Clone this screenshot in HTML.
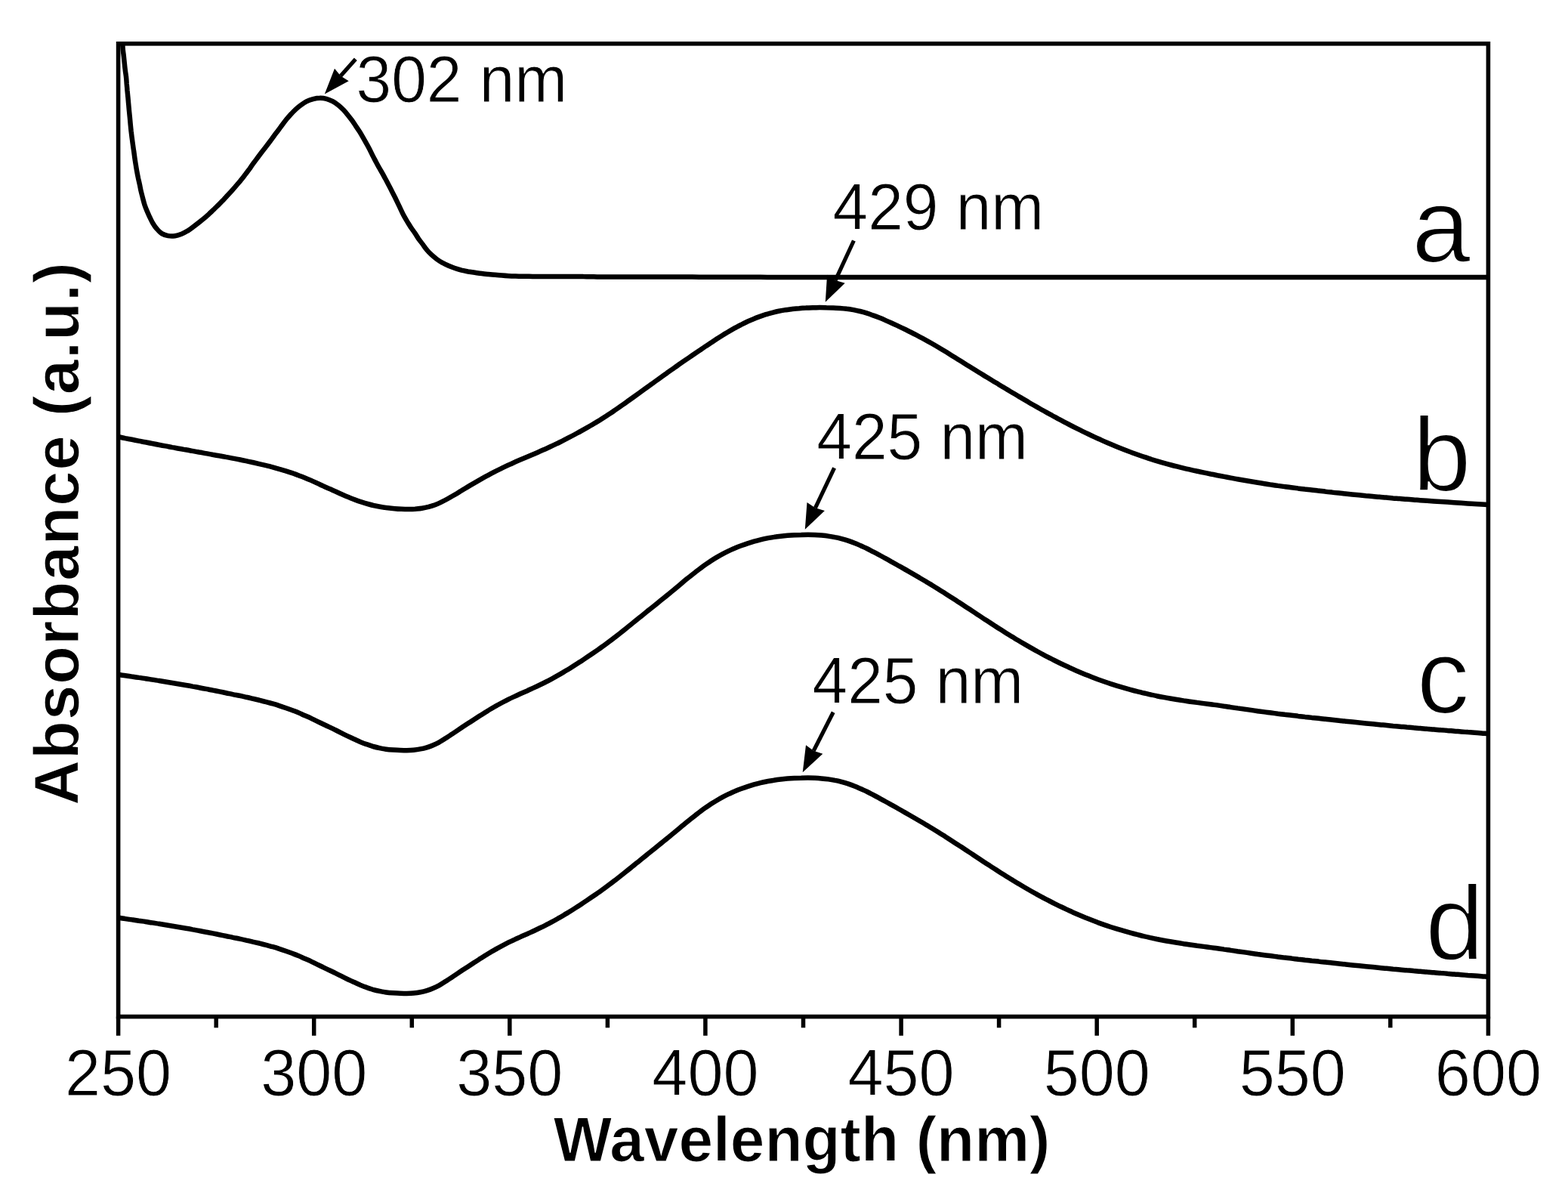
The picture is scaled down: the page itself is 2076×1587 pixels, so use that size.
<!DOCTYPE html>
<html lang="en">
<head>
<meta charset="utf-8">
<title>UV-vis absorbance spectra</title>
<style>
html,body{margin:0;padding:0;background:#fff;}
body{width:2076px;height:1587px;overflow:hidden;}
svg{display:block;}
text{font-family:"Liberation Sans",Arial,Helvetica,sans-serif;fill:#000;}
.tk{font-size:87.3px;text-anchor:middle;stroke:#fff;stroke-width:0.9px;}
.an{font-size:86.8px;stroke:#fff;stroke-width:0.9px;}
.lb{font-size:140px;stroke:#fff;stroke-width:2.2px;}
.ax{font-size:83px;font-weight:bold;text-anchor:middle;stroke:#fff;stroke-width:1.2px;}
</style>
</head>
<body>
<svg xmlns="http://www.w3.org/2000/svg" width="2076" height="1587" viewBox="0 0 2076 1587">
<rect width="2076" height="1587" fill="#fff"/>
<defs><clipPath id="plot"><rect x="156.6" y="57.8" width="1813.8" height="1287.8"/></clipPath></defs>
<g clip-path="url(#plot)" fill="none" stroke="#000" stroke-width="6.5" stroke-linejoin="round" stroke-linecap="butt">
<path d="M158.5 -60.0C158.5 -57.0 158.6 -54.0 158.6 -51.0C158.7 -48.0 158.8 -45.0 158.8 -42.0C158.9 -39.0 158.9 -36.0 159.0 -33.0C159.1 -30.0 159.2 -27.0 159.2 -24.0C159.3 -21.0 159.4 -18.0 159.5 -15.0C159.6 -12.0 159.6 -9.0 159.7 -6.0C159.8 -3.0 159.9 0.0 160.0 3.0C160.1 6.0 160.3 9.0 160.4 12.0C160.4 15.0 160.5 18.0 160.6 21.0C160.6 24.1 160.7 27.1 160.7 30.1C160.8 33.1 161.0 36.1 161.1 39.1C161.3 42.1 161.4 45.1 161.6 48.1C161.8 51.1 162.0 54.0 162.2 57.0C162.4 60.0 162.5 63.0 162.8 66.0C163.1 69.0 163.6 72.0 163.9 75.0C164.2 77.9 164.5 80.9 164.8 83.9C165.1 86.9 165.4 89.9 165.8 92.9C166.1 95.9 166.7 98.8 167.0 101.8C167.4 104.8 167.5 107.8 167.7 110.8C168.0 113.8 168.3 116.8 168.5 119.7C168.8 122.7 169.1 125.7 169.4 128.7C169.7 131.7 169.9 134.7 170.2 137.7C170.5 140.7 170.7 143.7 171.0 146.7C171.3 149.6 171.6 152.6 171.9 155.6C172.2 158.6 172.4 161.6 172.7 164.6C173.0 167.6 173.3 170.6 173.6 173.6C174.0 176.5 174.3 179.5 174.7 182.5C175.1 185.5 175.5 188.5 175.9 191.4C176.3 194.4 176.7 197.4 177.2 200.3C177.6 203.3 178.0 206.3 178.4 209.3C178.8 212.2 179.3 215.2 179.8 218.2C180.3 221.1 180.7 224.1 181.3 227.1C181.8 230.0 182.4 232.9 183.0 235.9C183.7 238.8 184.3 241.7 185.0 244.7C185.6 247.6 186.1 250.6 186.8 253.5C187.5 256.5 188.3 259.3 189.0 262.2C189.8 265.2 190.5 268.1 191.4 270.9C192.4 273.8 193.5 276.6 194.6 279.3C195.8 282.1 197.0 284.9 198.3 287.6C199.7 290.3 200.9 293.1 202.5 295.7C204.0 298.2 205.7 300.8 207.7 303.0C209.6 305.2 211.7 307.6 214.2 309.1C216.7 310.6 219.7 311.6 222.6 312.1C225.5 312.6 228.7 312.6 231.6 312.2C234.5 311.8 237.5 310.8 240.3 309.7C243.1 308.7 245.8 307.2 248.4 305.6C251.0 304.1 253.3 302.2 255.7 300.4C258.1 298.6 260.5 296.7 262.8 294.9C265.2 293.0 267.6 291.2 269.9 289.3C272.2 287.4 274.4 285.3 276.6 283.3C278.8 281.3 281.0 279.2 283.2 277.2C285.3 275.1 287.5 273.0 289.6 270.9C291.8 268.8 293.8 266.6 295.9 264.4C298.0 262.2 300.0 260.0 302.0 257.8C304.1 255.6 306.1 253.4 308.1 251.1C310.1 248.9 312.1 246.6 314.0 244.3C315.9 242.1 317.9 239.7 319.7 237.4C321.6 235.1 323.4 232.7 325.3 230.3C327.1 227.9 328.9 225.5 330.7 223.1C332.4 220.6 334.1 218.1 335.8 215.7C337.6 213.3 339.4 210.9 341.2 208.5C343.0 206.1 344.8 203.7 346.6 201.3C348.4 198.9 350.3 196.5 352.1 194.2C354.0 191.8 355.8 189.4 357.6 187.0C359.4 184.6 361.1 182.1 362.9 179.7C364.7 177.3 366.6 174.9 368.4 172.5C370.2 170.1 371.9 167.7 373.7 165.3C375.5 162.9 377.3 160.5 379.2 158.1C381.1 155.8 383.1 153.5 385.1 151.3C387.2 149.1 389.2 146.8 391.4 144.8C393.6 142.8 396.0 140.9 398.4 139.2C400.9 137.4 403.4 135.6 406.1 134.2C408.7 132.9 411.6 131.9 414.5 131.1C417.4 130.4 420.4 129.8 423.4 129.8C426.3 129.7 429.4 130.1 432.2 130.8C435.1 131.5 437.9 132.8 440.5 134.2C443.2 135.6 445.7 137.4 448.0 139.2C450.3 141.1 452.5 143.2 454.6 145.3C456.7 147.5 458.6 149.8 460.5 152.2C462.4 154.5 464.2 156.9 466.0 159.3C467.8 161.8 469.4 164.3 471.1 166.8C472.8 169.3 474.5 171.8 476.1 174.3C477.7 176.9 479.2 179.5 480.7 182.1C482.2 184.7 483.7 187.3 485.1 189.9C486.6 192.5 488.0 195.1 489.4 197.8C490.8 200.5 492.0 203.2 493.4 205.9C494.7 208.6 496.2 211.2 497.6 213.9C499.0 216.5 500.4 219.2 501.9 221.8C503.3 224.4 504.9 227.0 506.4 229.6C507.8 232.2 509.2 234.9 510.7 237.5C512.1 240.2 513.5 242.8 514.9 245.5C516.3 248.1 517.7 250.8 519.0 253.5C520.4 256.2 521.7 258.8 523.1 261.5C524.4 264.2 525.7 266.9 527.0 269.6C528.3 272.3 529.6 275.1 530.9 277.8C532.2 280.5 533.4 283.2 534.9 285.9C536.3 288.5 537.9 291.1 539.4 293.6C541.0 296.2 542.5 298.8 544.2 301.3C545.8 303.8 547.7 306.1 549.4 308.6C551.1 311.1 552.5 313.8 554.3 316.3C556.0 318.7 557.9 321.0 559.7 323.4C561.5 325.8 563.1 328.4 565.1 330.7C567.0 333.0 569.1 335.1 571.3 337.2C573.5 339.2 575.8 341.2 578.2 343.0C580.6 344.8 583.2 346.4 585.8 347.8C588.4 349.3 591.2 350.6 593.9 351.8C596.7 353.0 599.5 354.1 602.3 355.0C605.1 356.0 608.0 356.8 610.9 357.6C613.9 358.3 616.8 358.9 619.7 359.5C622.7 360.0 625.7 360.4 628.7 360.8C631.6 361.2 634.6 361.7 637.6 362.0C640.6 362.4 643.6 362.7 646.5 363.0C649.5 363.3 652.5 363.6 655.5 363.8C658.5 364.1 661.5 364.4 664.5 364.6C667.5 364.9 670.5 365.1 673.5 365.2C676.5 365.4 679.5 365.5 682.5 365.6C685.5 365.7 688.5 365.7 691.5 365.8C694.5 365.8 697.5 365.8 700.5 365.8C703.5 365.9 706.5 365.9 709.5 366.0C712.5 366.0 715.5 366.1 718.5 366.1C721.5 366.1 724.5 366.1 727.5 366.1C730.5 366.1 733.5 366.1 736.5 366.1C739.5 366.1 742.5 366.1 745.5 366.1C748.5 366.1 751.5 366.1 754.5 366.1C757.5 366.0 760.5 366.0 763.5 366.0C766.5 366.0 769.5 366.0 772.5 366.1C775.5 366.1 778.5 366.3 781.5 366.3C784.5 366.4 787.6 366.3 790.6 366.4C793.6 366.4 796.6 366.4 799.6 366.4C802.6 366.4 805.6 366.4 808.6 366.4C811.6 366.5 814.6 366.5 817.6 366.5C820.6 366.5 823.6 366.5 826.6 366.5C829.6 366.5 832.6 366.5 835.6 366.5C838.6 366.5 841.6 366.6 844.6 366.6C847.6 366.6 850.6 366.6 853.6 366.6C856.6 366.6 859.6 366.6 862.6 366.6C865.6 366.6 868.6 366.5 871.6 366.5C874.6 366.5 877.6 366.5 880.6 366.6C883.6 366.6 886.6 366.6 889.6 366.6C892.6 366.6 895.6 366.6 898.6 366.6C901.6 366.6 904.6 366.6 907.6 366.6C910.6 366.6 913.7 366.6 916.7 366.6C919.7 366.7 922.7 366.7 925.7 366.7C928.7 366.7 931.7 366.7 934.7 366.7C937.7 366.7 940.7 366.7 943.7 366.7C946.7 366.7 949.7 366.7 952.7 366.7C955.7 366.7 958.7 366.7 961.7 366.8C964.7 366.8 967.7 366.8 970.7 366.8C973.7 366.8 976.7 366.8 979.7 366.8C982.7 366.8 985.7 366.8 988.7 366.8C991.7 366.8 994.7 366.8 997.7 366.8C1000.7 366.8 1003.7 366.8 1006.7 366.8C1009.7 366.8 1012.7 366.8 1015.7 366.9C1018.7 366.9 1021.7 366.9 1024.7 366.9C1027.7 366.9 1030.7 366.9 1033.7 366.9C1036.8 366.9 1039.8 366.9 1042.8 366.9C1045.8 366.9 1048.8 366.9 1051.8 366.9C1054.8 366.9 1057.8 366.9 1060.8 366.9C1063.8 366.9 1066.8 366.9 1069.8 366.9C1072.8 366.9 1075.8 366.9 1078.8 366.9C1081.8 366.9 1084.8 367.0 1087.8 367.0C1090.8 367.0 1093.8 367.0 1096.8 367.0C1099.8 367.0 1102.8 367.0 1105.8 367.0C1108.8 367.0 1111.8 367.0 1114.8 367.0C1117.8 367.0 1120.8 367.0 1123.8 367.0C1126.8 367.0 1129.8 367.0 1132.8 367.0C1135.8 367.0 1138.8 367.0 1141.8 367.0C1144.8 367.0 1147.8 367.0 1150.8 367.0C1153.8 367.0 1156.8 367.0 1159.8 367.0C1162.9 367.0 1165.9 367.0 1168.9 367.0C1171.9 367.0 1174.9 367.0 1177.9 367.0C1180.9 367.0 1183.9 367.0 1186.9 367.0C1189.9 367.0 1192.9 367.0 1195.9 367.0C1198.9 367.0 1201.9 367.0 1204.9 367.0C1207.9 367.1 1210.9 367.1 1213.9 367.1C1216.9 367.1 1219.9 367.1 1222.9 367.1C1225.9 367.1 1228.9 367.1 1231.9 367.1C1234.9 367.1 1237.9 367.0 1240.9 367.0C1243.9 367.0 1246.9 367.0 1249.9 367.0C1252.9 367.0 1255.9 367.0 1258.9 367.0C1261.9 367.0 1264.9 367.0 1267.9 367.0C1270.9 367.0 1273.9 367.0 1276.9 367.0C1279.9 367.0 1282.9 367.0 1286.0 367.0C1289.0 367.0 1292.0 367.0 1295.0 367.0C1298.0 367.0 1301.0 367.0 1304.0 367.0C1307.0 367.0 1310.0 367.0 1313.0 367.0C1316.0 367.0 1319.0 367.0 1322.0 367.0C1325.0 367.0 1328.0 367.0 1331.0 367.0C1334.0 367.0 1337.0 367.0 1340.0 367.0C1343.0 367.0 1346.0 367.0 1349.0 367.0C1352.0 367.0 1355.0 367.0 1358.0 367.0C1361.0 367.0 1364.0 367.0 1367.0 367.0C1370.0 367.0 1373.0 367.0 1376.0 367.0C1379.0 367.0 1382.0 367.0 1385.0 367.0C1388.0 367.0 1391.0 367.0 1394.0 367.0C1397.0 367.0 1400.0 367.0 1403.0 367.0C1406.0 367.0 1409.0 367.0 1412.1 367.0C1415.1 367.0 1418.1 367.0 1421.1 367.0C1424.1 367.0 1427.1 367.0 1430.1 367.0C1433.1 367.0 1436.1 367.0 1439.1 367.0C1442.1 367.0 1445.1 367.0 1448.1 367.0C1451.1 367.0 1454.1 367.0 1457.1 367.0C1460.1 367.0 1463.1 367.0 1466.1 367.0C1469.1 367.0 1472.1 367.0 1475.1 367.0C1478.1 367.0 1481.1 367.0 1484.1 367.0C1487.1 367.0 1490.1 367.0 1493.1 367.0C1496.1 367.0 1499.1 367.0 1502.1 367.0C1505.1 367.0 1508.1 367.0 1511.1 367.0C1514.1 367.0 1517.1 367.0 1520.1 367.0C1523.1 367.0 1526.1 367.0 1529.1 367.0C1532.1 367.0 1535.2 367.0 1538.2 367.0C1541.2 367.0 1544.2 367.0 1547.2 367.0C1550.2 367.0 1553.2 367.0 1556.2 367.0C1559.2 367.0 1562.2 367.0 1565.2 367.0C1568.2 367.0 1571.2 367.0 1574.2 367.0C1577.2 367.0 1580.2 367.0 1583.2 367.0C1586.2 367.0 1589.2 367.0 1592.2 367.0C1595.2 367.0 1598.2 367.0 1601.2 367.0C1604.2 367.0 1607.2 367.0 1610.2 367.0C1613.2 367.0 1616.2 367.0 1619.2 367.0C1622.2 367.0 1625.2 367.0 1628.2 367.0C1631.2 367.0 1634.2 367.0 1637.2 367.0C1640.2 367.0 1643.2 367.0 1646.2 367.0C1649.2 367.0 1652.2 367.0 1655.2 367.0C1658.2 367.0 1661.3 367.0 1664.3 367.0C1667.3 367.0 1670.3 367.0 1673.3 367.0C1676.3 367.0 1679.3 367.0 1682.3 367.0C1685.3 367.0 1688.3 367.0 1691.3 367.0C1694.3 367.0 1697.3 367.0 1700.3 367.0C1703.3 367.0 1706.3 367.0 1709.3 367.0C1712.3 367.0 1715.3 367.0 1718.3 367.0C1721.3 367.0 1724.3 367.0 1727.3 367.0C1730.3 367.0 1733.3 367.0 1736.3 367.0C1739.3 367.0 1742.3 367.0 1745.3 367.0C1748.3 367.0 1751.3 367.0 1754.3 367.0C1757.3 367.0 1760.3 367.0 1763.3 367.0C1766.3 367.0 1769.3 367.0 1772.3 367.0C1775.3 367.0 1778.3 367.0 1781.3 367.0C1784.4 367.0 1787.4 367.0 1790.4 367.0C1793.4 367.0 1796.4 367.0 1799.4 367.0C1802.4 367.0 1805.4 367.0 1808.4 367.0C1811.4 367.0 1814.4 367.0 1817.4 367.0C1820.4 367.0 1823.4 367.0 1826.4 367.1C1829.4 367.1 1832.4 367.1 1835.4 367.1C1838.4 367.1 1841.4 367.1 1844.4 367.1C1847.4 367.1 1850.4 367.1 1853.4 367.1C1856.4 367.1 1859.4 367.1 1862.4 367.1C1865.4 367.1 1868.4 367.1 1871.4 367.1C1874.4 367.1 1877.4 367.1 1880.4 367.1C1883.4 367.1 1886.4 367.1 1889.4 367.1C1892.4 367.1 1895.4 367.1 1898.4 367.1C1901.4 367.1 1904.4 367.1 1907.4 367.1C1910.5 367.1 1913.5 367.1 1916.5 367.1C1919.5 367.1 1922.5 367.1 1925.5 367.1C1928.5 367.1 1931.5 367.1 1934.5 367.1C1937.5 367.1 1940.5 367.1 1943.5 367.1C1946.5 367.1 1949.5 367.1 1952.5 367.1C1955.5 367.1 1958.5 367.1 1961.5 367.1C1964.5 367.1 1967.5 367.1 1970.5 367.1"/>
<path d="M157.0 578.2C159.9 578.8 162.9 579.4 165.8 580.1C168.8 580.7 171.7 581.2 174.7 581.8C177.7 582.4 180.6 583.0 183.6 583.6C186.5 584.2 189.5 584.7 192.4 585.3C195.4 585.9 198.3 586.5 201.3 587.0C204.3 587.6 207.2 588.2 210.2 588.7C213.1 589.3 216.1 589.9 219.1 590.4C222.0 591.0 225.0 591.5 227.9 592.1C230.9 592.6 233.9 593.2 236.8 593.7C239.8 594.3 242.8 594.8 245.7 595.3C248.7 595.9 251.7 596.4 254.6 596.9C257.6 597.4 260.6 597.9 263.5 598.5C266.5 599.0 269.5 599.6 272.4 600.1C275.4 600.7 278.4 601.1 281.3 601.7C284.3 602.2 287.3 602.7 290.2 603.3C293.2 603.8 296.2 604.3 299.1 604.9C302.1 605.4 305.1 606.0 308.0 606.6C311.0 607.2 314.0 607.7 316.9 608.3C319.9 608.9 322.8 609.5 325.8 610.1C328.7 610.8 331.7 611.4 334.6 612.0C337.6 612.7 340.5 613.4 343.4 614.1C346.4 614.8 349.3 615.4 352.3 616.1C355.2 616.8 358.1 617.6 361.0 618.3C363.9 619.1 366.8 619.9 369.7 620.8C372.6 621.6 375.4 622.5 378.3 623.3C381.2 624.2 384.0 625.1 386.9 626.1C389.7 627.1 392.5 628.2 395.3 629.2C398.1 630.3 400.9 631.3 403.7 632.4C406.5 633.5 409.2 634.7 411.9 635.9C414.7 637.1 417.4 638.4 420.1 639.6C422.9 640.9 425.6 642.1 428.3 643.4C431.1 644.6 433.8 645.8 436.5 647.1C439.3 648.3 442.0 649.6 444.8 650.8C447.5 652.1 450.2 653.4 453.0 654.6C455.7 655.8 458.5 657.0 461.3 658.1C464.1 659.2 466.9 660.4 469.7 661.4C472.6 662.5 475.4 663.5 478.3 664.4C481.1 665.3 484.0 666.2 486.9 667.0C489.8 667.8 492.7 668.6 495.7 669.3C498.6 669.9 501.6 670.5 504.6 671.0C507.5 671.5 510.5 672.0 513.5 672.3C516.5 672.7 519.5 673.0 522.5 673.2C525.5 673.5 528.6 673.7 531.6 673.8C534.6 674.0 537.6 674.1 540.6 674.1C543.6 674.0 546.6 673.9 549.6 673.7C552.6 673.4 555.6 673.2 558.6 672.7C561.6 672.2 564.5 671.6 567.4 670.9C570.3 670.1 573.2 669.2 576.0 668.2C578.8 667.1 581.5 665.9 584.2 664.6C586.9 663.3 589.6 661.9 592.2 660.5C594.8 659.1 597.4 657.5 600.0 656.0C602.6 654.5 605.2 653.0 607.7 651.4C610.3 649.9 612.8 648.3 615.4 646.7C618.0 645.2 620.6 643.6 623.1 642.1C625.7 640.6 628.3 639.1 630.9 637.6C633.5 636.1 636.1 634.6 638.7 633.1C641.3 631.7 644.0 630.2 646.6 628.8C649.2 627.4 651.9 626.0 654.5 624.6C657.2 623.2 659.9 621.9 662.6 620.6C665.3 619.2 668.0 617.9 670.7 616.6C673.4 615.4 676.1 614.1 678.9 612.9C681.6 611.7 684.4 610.5 687.1 609.3C689.9 608.1 692.7 607.0 695.5 605.8C698.2 604.6 701.0 603.4 703.8 602.2C706.5 601.1 709.3 599.9 712.1 598.7C714.8 597.5 717.6 596.3 720.4 595.0C723.1 593.8 725.9 592.6 728.6 591.3C731.4 590.0 734.1 588.7 736.8 587.4C739.6 586.1 742.3 584.7 745.0 583.4C747.7 582.0 750.4 580.6 753.1 579.2C755.8 577.8 758.5 576.4 761.1 575.0C763.8 573.5 766.5 572.1 769.1 570.6C771.8 569.1 774.4 567.6 777.1 566.1C779.7 564.6 782.3 563.1 785.0 561.6C787.6 560.0 790.2 558.4 792.8 556.9C795.4 555.3 797.9 553.7 800.5 552.0C803.1 550.4 805.6 548.7 808.2 547.1C810.7 545.4 813.2 543.6 815.7 541.9C818.2 540.2 820.7 538.4 823.2 536.6C825.8 534.9 828.3 533.1 830.7 531.3C833.2 529.6 835.7 527.8 838.2 526.0C840.7 524.2 843.2 522.4 845.7 520.6C848.2 518.8 850.7 517.0 853.2 515.2C855.6 513.4 858.1 511.6 860.6 509.8C863.1 508.1 865.6 506.3 868.0 504.5C870.5 502.7 873.0 500.9 875.5 499.1C878.0 497.4 880.4 495.6 882.9 493.8C885.4 492.1 887.8 490.3 890.3 488.6C892.8 486.8 895.3 485.1 897.7 483.3C900.2 481.6 902.7 479.9 905.1 478.2C907.6 476.5 910.1 474.8 912.6 473.1C915.0 471.4 917.5 469.7 920.0 468.0C922.5 466.3 925.0 464.6 927.5 463.0C929.9 461.3 932.4 459.6 934.9 457.9C937.4 456.3 939.9 454.6 942.4 453.0C944.9 451.3 947.4 449.7 949.9 448.0C952.4 446.4 954.9 444.8 957.5 443.2C960.0 441.7 962.6 440.1 965.2 438.6C967.7 437.1 970.3 435.6 972.9 434.1C975.6 432.7 978.2 431.3 980.9 430.0C983.5 428.6 986.2 427.3 988.9 426.0C991.6 424.8 994.4 423.5 997.1 422.4C999.9 421.2 1002.7 420.1 1005.5 419.1C1008.3 418.1 1011.1 417.1 1014.0 416.2C1016.8 415.3 1019.7 414.5 1022.6 413.8C1025.5 413.1 1028.4 412.4 1031.3 411.8C1034.2 411.2 1037.2 410.7 1040.1 410.2C1043.1 409.7 1046.1 409.4 1049.0 409.0C1052.0 408.7 1055.0 408.4 1058.0 408.2C1061.0 407.9 1064.0 407.7 1067.0 407.6C1070.0 407.4 1073.0 407.3 1076.1 407.2C1079.1 407.2 1082.1 407.1 1085.1 407.1C1088.1 407.1 1091.1 407.1 1094.2 407.2C1097.2 407.2 1100.2 407.3 1103.2 407.4C1106.2 407.5 1109.2 407.7 1112.2 407.9C1115.1 408.1 1118.1 408.4 1121.1 408.8C1124.0 409.1 1127.0 409.6 1129.9 410.1C1132.8 410.7 1135.8 411.3 1138.7 412.0C1141.6 412.7 1144.5 413.5 1147.3 414.4C1150.2 415.3 1153.0 416.3 1155.8 417.4C1158.7 418.4 1161.5 419.5 1164.3 420.6C1167.1 421.7 1169.9 422.9 1172.6 424.1C1175.4 425.3 1178.2 426.5 1180.9 427.8C1183.7 429.0 1186.4 430.3 1189.2 431.6C1191.9 432.9 1194.6 434.2 1197.4 435.5C1200.1 436.8 1202.8 438.2 1205.5 439.5C1208.2 440.9 1210.9 442.3 1213.6 443.7C1216.3 445.1 1218.9 446.5 1221.6 447.9C1224.3 449.4 1226.9 450.8 1229.6 452.3C1232.2 453.8 1234.8 455.3 1237.4 456.8C1240.0 458.3 1242.7 459.8 1245.3 461.4C1247.8 462.9 1250.4 464.5 1253.0 466.1C1255.6 467.7 1258.1 469.3 1260.7 470.9C1263.3 472.5 1265.8 474.1 1268.4 475.7C1271.0 477.3 1273.5 478.9 1276.1 480.5C1278.7 482.1 1281.2 483.7 1283.8 485.3C1286.3 486.9 1288.9 488.5 1291.5 490.1C1294.0 491.7 1296.6 493.2 1299.2 494.8C1301.8 496.4 1304.3 498.0 1306.9 499.5C1309.5 501.1 1312.0 502.7 1314.6 504.2C1317.2 505.8 1319.8 507.3 1322.4 508.9C1324.9 510.4 1327.5 512.0 1330.1 513.5C1332.7 515.1 1335.3 516.6 1337.9 518.2C1340.5 519.7 1343.0 521.3 1345.6 522.8C1348.2 524.3 1350.8 525.9 1353.4 527.4C1356.0 528.9 1358.6 530.4 1361.2 531.9C1363.8 533.5 1366.4 535.0 1369.0 536.5C1371.7 538.0 1374.3 539.5 1376.9 541.0C1379.5 542.4 1382.1 543.9 1384.8 545.4C1387.4 546.8 1390.0 548.3 1392.7 549.7C1395.3 551.2 1398.0 552.6 1400.6 554.1C1403.3 555.5 1405.9 556.9 1408.6 558.3C1411.3 559.7 1413.9 561.1 1416.6 562.5C1419.3 563.8 1422.0 565.2 1424.7 566.6C1427.3 567.9 1430.0 569.3 1432.7 570.6C1435.4 571.9 1438.1 573.2 1440.9 574.5C1443.6 575.8 1446.3 577.1 1449.0 578.4C1451.8 579.7 1454.5 580.9 1457.3 582.1C1460.0 583.4 1462.7 584.6 1465.5 585.8C1468.3 587.0 1471.0 588.1 1473.8 589.3C1476.6 590.5 1479.4 591.6 1482.2 592.7C1484.9 593.8 1487.7 594.9 1490.5 596.0C1493.4 597.1 1496.2 598.1 1499.0 599.2C1501.8 600.2 1504.6 601.2 1507.5 602.2C1510.3 603.2 1513.1 604.2 1516.0 605.1C1518.8 606.1 1521.7 607.0 1524.5 608.0C1527.4 608.9 1530.3 609.8 1533.1 610.6C1536.0 611.5 1538.9 612.4 1541.8 613.2C1544.6 614.0 1547.6 614.8 1550.5 615.5C1553.4 616.3 1556.3 617.0 1559.2 617.7C1562.1 618.5 1565.0 619.2 1567.9 619.9C1570.8 620.6 1573.8 621.2 1576.7 621.9C1579.6 622.6 1582.6 623.2 1585.5 623.8C1588.4 624.4 1591.4 625.0 1594.3 625.6C1597.3 626.3 1600.2 626.9 1603.1 627.5C1606.1 628.0 1609.0 628.6 1612.0 629.2C1614.9 629.7 1617.9 630.3 1620.8 630.9C1623.8 631.5 1626.7 632.0 1629.7 632.6C1632.6 633.1 1635.5 633.7 1638.5 634.2C1641.4 634.7 1644.4 635.3 1647.3 635.8C1650.3 636.3 1653.2 636.8 1656.2 637.3C1659.2 637.8 1662.1 638.3 1665.1 638.8C1668.0 639.3 1671.0 639.8 1674.0 640.2C1676.9 640.7 1679.9 641.1 1682.9 641.6C1685.8 642.0 1688.8 642.4 1691.8 642.9C1694.7 643.3 1697.7 643.7 1700.7 644.1C1703.7 644.5 1706.6 644.9 1709.6 645.2C1712.6 645.6 1715.6 646.0 1718.6 646.4C1721.5 646.7 1724.5 647.1 1727.5 647.5C1730.5 647.8 1733.5 648.2 1736.5 648.5C1739.4 648.9 1742.4 649.2 1745.4 649.6C1748.4 649.9 1751.4 650.3 1754.4 650.6C1757.4 651.0 1760.4 651.3 1763.4 651.6C1766.4 652.0 1769.4 652.3 1772.4 652.6C1775.4 652.9 1778.3 653.2 1781.3 653.5C1784.3 653.8 1787.3 654.1 1790.3 654.4C1793.3 654.7 1796.3 655.0 1799.3 655.3C1802.3 655.6 1805.3 655.9 1808.3 656.2C1811.3 656.4 1814.3 656.7 1817.3 657.0C1820.3 657.3 1823.3 657.5 1826.3 657.8C1829.3 658.1 1832.3 658.3 1835.3 658.6C1838.3 658.9 1841.3 659.1 1844.3 659.4C1847.3 659.6 1850.3 659.9 1853.3 660.1C1856.3 660.3 1859.3 660.6 1862.3 660.8C1865.3 661.1 1868.3 661.3 1871.3 661.5C1874.3 661.7 1877.3 662.0 1880.3 662.2C1883.3 662.4 1886.3 662.6 1889.3 662.8C1892.3 663.0 1895.3 663.2 1898.3 663.4C1901.3 663.6 1904.3 663.8 1907.4 664.0C1910.4 664.2 1913.4 664.4 1916.4 664.6C1919.4 664.8 1922.4 665.0 1925.4 665.2C1928.4 665.4 1931.4 665.6 1934.4 665.8C1937.4 666.0 1940.4 666.2 1943.4 666.4C1946.4 666.6 1949.4 666.8 1952.5 666.9C1955.5 667.1 1958.5 667.3 1961.5 667.5C1964.5 667.7 1967.5 667.8 1970.5 668.0"/>
<path d="M157.0 893.0C160.0 893.4 163.0 893.9 165.9 894.3C168.9 894.7 171.9 895.1 174.9 895.6C177.8 896.0 180.8 896.4 183.8 896.9C186.8 897.3 189.8 897.8 192.7 898.2C195.7 898.7 198.7 899.1 201.7 899.6C204.6 900.1 207.6 900.5 210.6 901.0C213.5 901.5 216.5 902.0 219.5 902.5C222.4 903.0 225.4 903.5 228.4 904.0C231.4 904.5 234.3 905.0 237.3 905.5C240.3 906.0 243.2 906.5 246.2 907.0C249.2 907.5 252.1 908.0 255.1 908.6C258.0 909.1 261.0 909.7 264.0 910.2C266.9 910.8 269.9 911.4 272.8 911.9C275.8 912.5 278.8 913.0 281.7 913.6C284.7 914.2 287.6 914.8 290.6 915.4C293.5 916.0 296.5 916.6 299.4 917.2C302.4 917.8 305.3 918.5 308.3 919.1C311.2 919.7 314.2 920.2 317.2 920.8C320.1 921.4 323.1 922.1 326.0 922.8C329.0 923.4 331.9 924.1 334.8 924.8C337.8 925.4 340.7 926.1 343.7 926.8C346.6 927.6 349.5 928.4 352.4 929.1C355.3 929.9 358.2 930.6 361.1 931.4C364.0 932.2 366.9 933.1 369.7 934.1C372.6 935.0 375.4 936.0 378.2 937.0C381.1 938.0 383.9 939.0 386.7 940.0C389.5 941.1 392.4 942.1 395.1 943.3C397.9 944.4 400.6 945.8 403.4 947.0C406.1 948.2 408.9 949.3 411.6 950.6C414.4 951.9 417.0 953.3 419.7 954.6C422.5 955.9 425.2 957.2 427.9 958.5C430.6 959.8 433.3 961.1 436.1 962.4C438.8 963.7 441.5 964.9 444.2 966.3C446.9 967.6 449.6 969.0 452.3 970.4C455.0 971.8 457.7 973.1 460.4 974.4C463.2 975.7 465.9 976.9 468.7 978.2C471.4 979.4 474.1 980.7 476.9 981.9C479.7 983.0 482.5 984.1 485.3 985.1C488.1 986.2 491.0 987.1 493.8 988.0C496.7 988.8 499.6 989.5 502.6 990.1C505.5 990.8 508.4 991.3 511.4 991.7C514.4 992.1 517.4 992.3 520.5 992.5C523.5 992.7 526.5 992.9 529.5 993.0C532.5 993.1 535.5 993.2 538.5 993.2C541.5 993.1 544.5 993.0 547.5 992.7C550.5 992.4 553.5 992.0 556.5 991.4C559.4 990.9 562.3 990.2 565.2 989.3C568.1 988.4 570.9 987.4 573.6 986.2C576.4 985.0 579.1 983.7 581.7 982.3C584.3 980.8 586.9 979.1 589.4 977.5C591.9 975.9 594.5 974.3 597.0 972.6C599.5 971.0 602.0 969.3 604.5 967.6C607.0 965.9 609.5 964.2 612.0 962.5C614.5 960.9 617.0 959.3 619.6 957.6C622.1 956.0 624.6 954.4 627.1 952.7C629.7 951.1 632.2 949.5 634.7 947.8C637.2 946.2 639.8 944.6 642.3 943.0C644.9 941.4 647.4 939.8 650.0 938.3C652.6 936.7 655.2 935.3 657.8 933.8C660.5 932.3 663.1 930.9 665.7 929.5C668.4 928.1 671.1 926.7 673.7 925.4C676.4 924.0 679.2 922.8 681.9 921.6C684.7 920.3 687.4 919.1 690.1 917.8C692.9 916.6 695.6 915.4 698.4 914.2C701.1 912.9 703.9 911.7 706.6 910.4C709.3 909.1 712.1 907.8 714.8 906.5C717.5 905.2 720.2 903.9 722.9 902.5C725.6 901.2 728.2 899.8 730.9 898.3C733.6 896.9 736.2 895.4 738.8 893.9C741.4 892.5 744.1 890.9 746.6 889.4C749.2 887.8 751.8 886.3 754.4 884.7C757.0 883.1 759.5 881.5 762.1 879.8C764.6 878.2 767.2 876.5 769.7 874.9C772.2 873.2 774.8 871.5 777.3 869.8C779.8 868.1 782.3 866.4 784.8 864.7C787.3 863.0 789.8 861.3 792.3 859.6C794.7 857.8 797.2 856.1 799.7 854.3C802.1 852.5 804.6 850.7 807.0 848.9C809.5 847.1 811.9 845.2 814.3 843.4C816.7 841.5 819.1 839.6 821.5 837.7C823.9 835.8 826.3 833.9 828.7 832.0C831.0 830.1 833.4 828.2 835.8 826.3C838.2 824.3 840.6 822.4 842.9 820.5C845.3 818.6 847.7 816.6 850.1 814.7C852.5 812.8 854.9 810.9 857.2 808.9C859.6 807.0 862.0 805.1 864.4 803.2C866.8 801.3 869.1 799.4 871.5 797.4C873.9 795.5 876.2 793.6 878.6 791.7C881.0 789.8 883.3 787.9 885.7 786.0C888.0 784.0 890.3 782.1 892.7 780.2C895.0 778.2 897.3 776.3 899.6 774.4C901.9 772.5 904.2 770.5 906.5 768.6C908.8 766.7 911.1 764.8 913.5 763.0C915.8 761.1 918.1 759.3 920.5 757.5C922.8 755.7 925.1 753.8 927.5 752.1C929.8 750.3 932.2 748.6 934.6 746.9C937.0 745.3 939.5 743.6 941.9 742.0C944.4 740.4 946.8 738.9 949.4 737.4C951.9 735.9 954.4 734.5 957.0 733.1C959.6 731.7 962.2 730.4 964.9 729.1C967.6 727.9 970.2 726.6 973.0 725.5C975.7 724.3 978.4 723.2 981.2 722.2C984.0 721.2 986.8 720.2 989.6 719.3C992.5 718.4 995.4 717.5 998.2 716.6C1001.1 715.8 1004.0 715.0 1006.9 714.3C1009.9 713.6 1012.8 713.0 1015.8 712.4C1018.7 711.9 1021.7 711.3 1024.6 710.9C1027.6 710.4 1030.6 710.0 1033.6 709.7C1036.6 709.4 1039.6 709.1 1042.6 708.8C1045.6 708.6 1048.6 708.4 1051.6 708.2C1054.7 708.0 1057.7 707.9 1060.7 707.9C1063.7 707.8 1066.7 707.8 1069.7 707.8C1072.7 707.8 1075.8 707.9 1078.8 708.0C1081.8 708.2 1084.7 708.4 1087.7 708.6C1090.7 708.9 1093.7 709.2 1096.7 709.6C1099.6 710.0 1102.6 710.5 1105.5 711.1C1108.4 711.6 1111.3 712.3 1114.2 713.1C1117.1 713.9 1119.9 714.7 1122.8 715.6C1125.6 716.6 1128.4 717.6 1131.2 718.7C1134.0 719.8 1136.7 721.0 1139.5 722.2C1142.2 723.5 1145.0 724.7 1147.7 726.0C1150.4 727.3 1153.0 728.7 1155.7 730.1C1158.4 731.5 1161.0 732.9 1163.7 734.3C1166.3 735.8 1169.0 737.2 1171.6 738.7C1174.2 740.1 1176.9 741.6 1179.5 743.1C1182.1 744.5 1184.8 746.0 1187.4 747.5C1190.0 749.0 1192.6 750.4 1195.2 751.9C1197.9 753.4 1200.5 754.9 1203.1 756.4C1205.7 757.9 1208.3 759.4 1210.9 760.9C1213.5 762.4 1216.1 763.9 1218.7 765.5C1221.3 767.0 1223.9 768.5 1226.5 770.1C1229.1 771.6 1231.7 773.2 1234.2 774.7C1236.8 776.3 1239.4 777.9 1241.9 779.5C1244.5 781.1 1247.0 782.7 1249.6 784.3C1252.1 785.9 1254.7 787.5 1257.2 789.2C1259.7 790.8 1262.2 792.4 1264.8 794.1C1267.3 795.7 1269.8 797.4 1272.4 799.0C1274.9 800.7 1277.4 802.3 1279.9 804.0C1282.4 805.6 1284.9 807.3 1287.5 808.9C1290.0 810.6 1292.5 812.3 1295.0 813.9C1297.5 815.6 1300.0 817.2 1302.5 818.9C1305.0 820.5 1307.6 822.2 1310.1 823.8C1312.6 825.5 1315.1 827.1 1317.7 828.7C1320.2 830.4 1322.7 832.0 1325.3 833.6C1327.8 835.2 1330.4 836.8 1332.9 838.4C1335.5 840.0 1338.0 841.6 1340.6 843.1C1343.2 844.7 1345.7 846.3 1348.3 847.8C1350.9 849.4 1353.5 850.9 1356.1 852.4C1358.7 853.9 1361.3 855.4 1363.9 856.9C1366.5 858.4 1369.2 859.9 1371.8 861.3C1374.4 862.8 1377.1 864.2 1379.7 865.7C1382.4 867.1 1385.0 868.5 1387.7 869.9C1390.4 871.3 1393.1 872.6 1395.8 874.0C1398.4 875.3 1401.1 876.6 1403.9 878.0C1406.6 879.3 1409.3 880.6 1412.0 881.8C1414.7 883.1 1417.5 884.3 1420.2 885.6C1423.0 886.8 1425.7 888.0 1428.5 889.2C1431.3 890.4 1434.0 891.5 1436.8 892.7C1439.6 893.8 1442.4 894.9 1445.2 896.0C1448.0 897.1 1450.8 898.2 1453.6 899.3C1456.4 900.3 1459.3 901.3 1462.1 902.3C1464.9 903.3 1467.8 904.3 1470.6 905.2C1473.5 906.1 1476.4 907.0 1479.2 907.9C1482.1 908.8 1485.0 909.6 1487.9 910.4C1490.8 911.3 1493.7 912.1 1496.6 912.8C1499.5 913.6 1502.4 914.4 1505.3 915.1C1508.2 915.8 1511.1 916.6 1514.0 917.3C1516.9 917.9 1519.9 918.6 1522.8 919.3C1525.7 919.9 1528.7 920.5 1531.6 921.2C1534.5 921.8 1537.5 922.4 1540.4 922.9C1543.4 923.5 1546.3 924.0 1549.3 924.5C1552.2 925.0 1555.2 925.5 1558.2 926.0C1561.1 926.5 1564.1 926.9 1567.1 927.4C1570.0 927.8 1573.0 928.3 1576.0 928.7C1578.9 929.1 1581.9 929.5 1584.9 929.9C1587.9 930.3 1590.9 930.7 1593.8 931.1C1596.8 931.5 1599.8 931.9 1602.8 932.3C1605.7 932.7 1608.7 933.0 1611.7 933.4C1614.7 933.8 1617.6 934.3 1620.6 934.8C1623.6 935.2 1626.6 935.7 1629.5 936.1C1632.5 936.5 1635.5 936.9 1638.5 937.4C1641.4 937.8 1644.4 938.2 1647.4 938.6C1650.3 939.1 1653.3 939.5 1656.3 939.9C1659.3 940.3 1662.2 940.7 1665.2 941.2C1668.2 941.6 1671.2 942.0 1674.1 942.4C1677.1 942.8 1680.1 943.1 1683.1 943.5C1686.1 943.9 1689.0 944.3 1692.0 944.7C1695.0 945.0 1698.0 945.4 1701.0 945.8C1703.9 946.1 1706.9 946.5 1709.9 946.8C1712.9 947.2 1715.9 947.5 1718.9 947.9C1721.9 948.2 1724.9 948.5 1727.8 948.9C1730.8 949.2 1733.8 949.5 1736.8 949.9C1739.8 950.2 1742.8 950.5 1745.8 950.8C1748.8 951.2 1751.8 951.5 1754.7 951.8C1757.7 952.1 1760.7 952.5 1763.7 952.8C1766.7 953.1 1769.7 953.4 1772.7 953.7C1775.7 954.0 1778.7 954.4 1781.7 954.7C1784.7 955.0 1787.7 955.3 1790.6 955.6C1793.6 955.9 1796.6 956.2 1799.6 956.5C1802.6 956.8 1805.6 957.1 1808.6 957.4C1811.6 957.7 1814.6 958.0 1817.6 958.3C1820.6 958.6 1823.6 958.9 1826.6 959.2C1829.6 959.5 1832.6 959.7 1835.6 960.0C1838.6 960.3 1841.6 960.6 1844.5 960.9C1847.5 961.1 1850.5 961.4 1853.5 961.7C1856.5 962.0 1859.5 962.2 1862.5 962.5C1865.5 962.7 1868.5 963.0 1871.5 963.3C1874.5 963.5 1877.5 963.8 1880.5 964.0C1883.5 964.3 1886.5 964.5 1889.5 964.8C1892.5 965.0 1895.5 965.3 1898.5 965.5C1901.5 965.8 1904.5 966.0 1907.5 966.3C1910.5 966.5 1913.5 966.7 1916.5 967.0C1919.5 967.2 1922.5 967.5 1925.5 967.7C1928.5 967.9 1931.5 968.2 1934.5 968.4C1937.5 968.6 1940.5 968.8 1943.5 969.1C1946.5 969.3 1949.5 969.5 1952.5 969.7C1955.5 970.0 1958.5 970.2 1961.5 970.4C1964.5 970.6 1967.5 970.9 1970.5 971.1"/>
<path d="M157.0 1214.8C160.0 1215.2 163.0 1215.7 165.9 1216.1C168.9 1216.5 171.9 1216.9 174.9 1217.4C177.8 1217.8 180.8 1218.2 183.8 1218.7C186.8 1219.1 189.8 1219.6 192.7 1220.0C195.7 1220.5 198.7 1220.9 201.7 1221.4C204.6 1221.9 207.6 1222.3 210.6 1222.8C213.5 1223.3 216.5 1223.8 219.5 1224.3C222.4 1224.8 225.4 1225.3 228.4 1225.8C231.4 1226.3 234.3 1226.8 237.3 1227.3C240.3 1227.8 243.2 1228.3 246.2 1228.8C249.2 1229.3 252.1 1229.8 255.1 1230.4C258.0 1230.9 261.0 1231.5 264.0 1232.0C266.9 1232.6 269.9 1233.2 272.8 1233.7C275.8 1234.3 278.8 1234.8 281.7 1235.4C284.7 1236.0 287.6 1236.6 290.6 1237.2C293.5 1237.8 296.5 1238.4 299.4 1239.0C302.4 1239.6 305.3 1240.3 308.3 1240.9C311.2 1241.5 314.2 1242.0 317.2 1242.6C320.1 1243.2 323.1 1243.9 326.0 1244.6C329.0 1245.2 331.9 1245.9 334.8 1246.6C337.8 1247.2 340.7 1247.9 343.7 1248.6C346.6 1249.4 349.5 1250.2 352.4 1250.9C355.3 1251.7 358.2 1252.4 361.1 1253.2C364.0 1254.0 366.9 1254.9 369.7 1255.9C372.6 1256.8 375.4 1257.8 378.2 1258.8C381.1 1259.8 383.9 1260.8 386.7 1261.8C389.5 1262.9 392.4 1263.9 395.1 1265.1C397.9 1266.2 400.6 1267.6 403.4 1268.8C406.1 1270.0 408.9 1271.1 411.6 1272.4C414.4 1273.7 417.0 1275.1 419.7 1276.4C422.5 1277.7 425.2 1279.0 427.9 1280.3C430.6 1281.6 433.3 1282.9 436.1 1284.2C438.8 1285.5 441.5 1286.7 444.2 1288.1C446.9 1289.4 449.6 1290.8 452.3 1292.2C455.0 1293.6 457.7 1294.9 460.4 1296.2C463.2 1297.5 465.9 1298.7 468.7 1300.0C471.4 1301.2 474.1 1302.5 476.9 1303.7C479.7 1304.8 482.5 1305.9 485.3 1306.9C488.1 1308.0 491.0 1308.9 493.8 1309.8C496.7 1310.6 499.6 1311.3 502.6 1311.9C505.5 1312.6 508.4 1313.1 511.4 1313.5C514.4 1313.9 517.4 1314.1 520.5 1314.3C523.5 1314.5 526.5 1314.7 529.5 1314.8C532.5 1314.9 535.5 1315.0 538.5 1315.0C541.5 1314.9 544.5 1314.8 547.5 1314.5C550.5 1314.2 553.5 1313.8 556.5 1313.2C559.4 1312.7 562.3 1312.0 565.2 1311.1C568.1 1310.2 570.9 1309.2 573.6 1308.0C576.4 1306.8 579.1 1305.5 581.7 1304.1C584.3 1302.6 586.9 1300.9 589.4 1299.3C591.9 1297.7 594.5 1296.1 597.0 1294.4C599.5 1292.8 602.0 1291.1 604.5 1289.4C607.0 1287.7 609.5 1286.0 612.0 1284.3C614.5 1282.7 617.0 1281.1 619.6 1279.4C622.1 1277.8 624.6 1276.2 627.1 1274.5C629.7 1272.9 632.2 1271.3 634.7 1269.6C637.2 1268.0 639.8 1266.4 642.3 1264.8C644.9 1263.2 647.4 1261.6 650.0 1260.1C652.6 1258.5 655.2 1257.1 657.8 1255.6C660.5 1254.1 663.1 1252.7 665.7 1251.3C668.4 1249.9 671.1 1248.5 673.7 1247.2C676.4 1245.8 679.2 1244.6 681.9 1243.4C684.7 1242.1 687.4 1240.9 690.1 1239.6C692.9 1238.4 695.6 1237.2 698.4 1236.0C701.1 1234.7 703.9 1233.5 706.6 1232.2C709.3 1230.9 712.1 1229.6 714.8 1228.3C717.5 1227.0 720.2 1225.7 722.9 1224.3C725.6 1223.0 728.2 1221.6 730.9 1220.1C733.6 1218.7 736.2 1217.2 738.8 1215.7C741.4 1214.3 744.1 1212.7 746.6 1211.2C749.2 1209.6 751.8 1208.1 754.4 1206.5C757.0 1204.9 759.5 1203.3 762.1 1201.6C764.6 1200.0 767.2 1198.3 769.7 1196.7C772.2 1195.0 774.8 1193.3 777.3 1191.6C779.8 1189.9 782.3 1188.2 784.8 1186.5C787.3 1184.8 789.8 1183.1 792.3 1181.4C794.7 1179.6 797.2 1177.9 799.7 1176.1C802.1 1174.3 804.6 1172.5 807.0 1170.7C809.5 1168.9 811.9 1167.0 814.3 1165.2C816.7 1163.3 819.1 1161.4 821.5 1159.5C823.9 1157.6 826.3 1155.7 828.7 1153.8C831.0 1151.9 833.4 1150.0 835.8 1148.1C838.2 1146.1 840.6 1144.2 842.9 1142.3C845.3 1140.4 847.7 1138.4 850.1 1136.5C852.5 1134.6 854.9 1132.7 857.2 1130.7C859.6 1128.8 862.0 1126.9 864.4 1125.0C866.8 1123.1 869.1 1121.2 871.5 1119.2C873.9 1117.3 876.2 1115.4 878.6 1113.5C881.0 1111.6 883.3 1109.7 885.7 1107.8C888.0 1105.8 890.3 1103.9 892.7 1102.0C895.0 1100.0 897.3 1098.1 899.6 1096.2C901.9 1094.3 904.2 1092.3 906.5 1090.4C908.8 1088.5 911.1 1086.6 913.5 1084.8C915.8 1082.9 918.1 1081.1 920.5 1079.3C922.8 1077.5 925.1 1075.6 927.5 1073.9C929.8 1072.1 932.2 1070.4 934.6 1068.7C937.0 1067.1 939.5 1065.4 941.9 1063.8C944.4 1062.2 946.8 1060.7 949.4 1059.2C951.9 1057.7 954.4 1056.3 957.0 1054.9C959.6 1053.5 962.2 1052.2 964.9 1050.9C967.6 1049.7 970.2 1048.4 973.0 1047.3C975.7 1046.1 978.4 1045.0 981.2 1044.0C984.0 1043.0 986.8 1042.0 989.6 1041.1C992.5 1040.2 995.4 1039.3 998.2 1038.4C1001.1 1037.6 1004.0 1036.8 1006.9 1036.1C1009.9 1035.4 1012.8 1034.8 1015.8 1034.2C1018.7 1033.7 1021.7 1033.1 1024.6 1032.7C1027.6 1032.2 1030.6 1031.8 1033.6 1031.5C1036.6 1031.2 1039.6 1030.9 1042.6 1030.6C1045.6 1030.4 1048.6 1030.2 1051.6 1030.0C1054.7 1029.8 1057.7 1029.7 1060.7 1029.7C1063.7 1029.6 1066.7 1029.6 1069.7 1029.6C1072.7 1029.6 1075.8 1029.7 1078.8 1029.8C1081.8 1030.0 1084.7 1030.2 1087.7 1030.4C1090.7 1030.7 1093.7 1031.0 1096.7 1031.4C1099.6 1031.8 1102.6 1032.3 1105.5 1032.9C1108.4 1033.4 1111.3 1034.1 1114.2 1034.9C1117.1 1035.7 1119.9 1036.5 1122.8 1037.4C1125.6 1038.4 1128.4 1039.4 1131.2 1040.5C1134.0 1041.6 1136.7 1042.8 1139.5 1044.0C1142.2 1045.3 1145.0 1046.5 1147.7 1047.8C1150.4 1049.1 1153.0 1050.5 1155.7 1051.9C1158.4 1053.3 1161.0 1054.7 1163.7 1056.1C1166.3 1057.6 1169.0 1059.0 1171.6 1060.5C1174.2 1061.9 1176.9 1063.4 1179.5 1064.9C1182.1 1066.3 1184.8 1067.8 1187.4 1069.3C1190.0 1070.8 1192.6 1072.2 1195.2 1073.7C1197.9 1075.2 1200.5 1076.7 1203.1 1078.2C1205.7 1079.7 1208.3 1081.2 1210.9 1082.7C1213.5 1084.2 1216.1 1085.7 1218.7 1087.3C1221.3 1088.8 1223.9 1090.3 1226.5 1091.9C1229.1 1093.4 1231.7 1095.0 1234.2 1096.5C1236.8 1098.1 1239.4 1099.7 1241.9 1101.3C1244.5 1102.9 1247.0 1104.5 1249.6 1106.1C1252.1 1107.7 1254.7 1109.3 1257.2 1111.0C1259.7 1112.6 1262.2 1114.2 1264.8 1115.9C1267.3 1117.5 1269.8 1119.2 1272.4 1120.8C1274.9 1122.5 1277.4 1124.1 1279.9 1125.8C1282.4 1127.4 1284.9 1129.1 1287.5 1130.7C1290.0 1132.4 1292.5 1134.1 1295.0 1135.7C1297.5 1137.4 1300.0 1139.0 1302.5 1140.7C1305.0 1142.3 1307.6 1144.0 1310.1 1145.6C1312.6 1147.3 1315.1 1148.9 1317.7 1150.5C1320.2 1152.2 1322.7 1153.8 1325.3 1155.4C1327.8 1157.0 1330.4 1158.6 1332.9 1160.2C1335.5 1161.8 1338.0 1163.4 1340.6 1164.9C1343.2 1166.5 1345.7 1168.1 1348.3 1169.6C1350.9 1171.2 1353.5 1172.7 1356.1 1174.2C1358.7 1175.7 1361.3 1177.2 1363.9 1178.7C1366.5 1180.2 1369.2 1181.7 1371.8 1183.1C1374.4 1184.6 1377.1 1186.0 1379.7 1187.5C1382.4 1188.9 1385.0 1190.3 1387.7 1191.7C1390.4 1193.1 1393.1 1194.4 1395.8 1195.8C1398.4 1197.1 1401.1 1198.4 1403.9 1199.8C1406.6 1201.1 1409.3 1202.4 1412.0 1203.6C1414.7 1204.9 1417.5 1206.1 1420.2 1207.4C1423.0 1208.6 1425.7 1209.8 1428.5 1211.0C1431.3 1212.2 1434.0 1213.3 1436.8 1214.5C1439.6 1215.6 1442.4 1216.7 1445.2 1217.8C1448.0 1218.9 1450.8 1220.0 1453.6 1221.1C1456.4 1222.1 1459.3 1223.1 1462.1 1224.1C1464.9 1225.1 1467.8 1226.1 1470.6 1227.0C1473.5 1227.9 1476.4 1228.8 1479.2 1229.7C1482.1 1230.6 1485.0 1231.4 1487.9 1232.2C1490.8 1233.1 1493.7 1233.9 1496.6 1234.6C1499.5 1235.4 1502.4 1236.2 1505.3 1236.9C1508.2 1237.6 1511.1 1238.4 1514.0 1239.1C1516.9 1239.7 1519.9 1240.4 1522.8 1241.1C1525.7 1241.7 1528.7 1242.3 1531.6 1243.0C1534.5 1243.6 1537.5 1244.2 1540.4 1244.7C1543.4 1245.3 1546.3 1245.8 1549.3 1246.3C1552.2 1246.8 1555.2 1247.3 1558.2 1247.8C1561.1 1248.3 1564.1 1248.7 1567.1 1249.2C1570.0 1249.6 1573.0 1250.1 1576.0 1250.5C1578.9 1250.9 1581.9 1251.3 1584.9 1251.7C1587.9 1252.1 1590.9 1252.5 1593.8 1252.9C1596.8 1253.3 1599.8 1253.7 1602.8 1254.1C1605.7 1254.5 1608.7 1254.8 1611.7 1255.2C1614.7 1255.6 1617.6 1256.1 1620.6 1256.6C1623.6 1257.0 1626.6 1257.5 1629.5 1257.9C1632.5 1258.3 1635.5 1258.7 1638.5 1259.2C1641.4 1259.6 1644.4 1260.0 1647.4 1260.4C1650.3 1260.9 1653.3 1261.3 1656.3 1261.7C1659.3 1262.1 1662.2 1262.5 1665.2 1263.0C1668.2 1263.4 1671.2 1263.8 1674.1 1264.2C1677.1 1264.6 1680.1 1264.9 1683.1 1265.3C1686.1 1265.7 1689.0 1266.1 1692.0 1266.5C1695.0 1266.8 1698.0 1267.2 1701.0 1267.6C1703.9 1267.9 1706.9 1268.3 1709.9 1268.6C1712.9 1269.0 1715.9 1269.3 1718.9 1269.7C1721.9 1270.0 1724.9 1270.3 1727.8 1270.7C1730.8 1271.0 1733.8 1271.3 1736.8 1271.7C1739.8 1272.0 1742.8 1272.3 1745.8 1272.6C1748.8 1273.0 1751.8 1273.3 1754.7 1273.6C1757.7 1273.9 1760.7 1274.3 1763.7 1274.6C1766.7 1274.9 1769.7 1275.2 1772.7 1275.5C1775.7 1275.8 1778.7 1276.2 1781.7 1276.5C1784.7 1276.8 1787.7 1277.1 1790.6 1277.4C1793.6 1277.7 1796.6 1278.0 1799.6 1278.3C1802.6 1278.6 1805.6 1278.9 1808.6 1279.2C1811.6 1279.5 1814.6 1279.8 1817.6 1280.1C1820.6 1280.4 1823.6 1280.7 1826.6 1281.0C1829.6 1281.3 1832.6 1281.5 1835.6 1281.8C1838.6 1282.1 1841.6 1282.4 1844.5 1282.7C1847.5 1282.9 1850.5 1283.2 1853.5 1283.5C1856.5 1283.8 1859.5 1284.0 1862.5 1284.3C1865.5 1284.5 1868.5 1284.8 1871.5 1285.1C1874.5 1285.3 1877.5 1285.6 1880.5 1285.8C1883.5 1286.1 1886.5 1286.3 1889.5 1286.6C1892.5 1286.8 1895.5 1287.1 1898.5 1287.3C1901.5 1287.6 1904.5 1287.8 1907.5 1288.1C1910.5 1288.3 1913.5 1288.5 1916.5 1288.8C1919.5 1289.0 1922.5 1289.3 1925.5 1289.5C1928.5 1289.7 1931.5 1290.0 1934.5 1290.2C1937.5 1290.4 1940.5 1290.6 1943.5 1290.9C1946.5 1291.1 1949.5 1291.3 1952.5 1291.5C1955.5 1291.8 1958.5 1292.0 1961.5 1292.2C1964.5 1292.4 1967.5 1292.7 1970.5 1292.9"/>
</g>
<rect x="156.6" y="57.8" width="1813.8" height="1287.8" fill="none" stroke="#000" stroke-width="5.6"/>
<g stroke="#000" stroke-width="5.5">
<line x1="156.6" y1="1345.6" x2="156.6" y2="1370.8"/>
<line x1="286.2" y1="1345.6" x2="286.2" y2="1360.3"/>
<line x1="415.7" y1="1345.6" x2="415.7" y2="1370.8"/>
<line x1="545.3" y1="1345.6" x2="545.3" y2="1360.3"/>
<line x1="674.8" y1="1345.6" x2="674.8" y2="1370.8"/>
<line x1="804.4" y1="1345.6" x2="804.4" y2="1360.3"/>
<line x1="933.9" y1="1345.6" x2="933.9" y2="1370.8"/>
<line x1="1063.5" y1="1345.6" x2="1063.5" y2="1360.3"/>
<line x1="1193.1" y1="1345.6" x2="1193.1" y2="1370.8"/>
<line x1="1322.6" y1="1345.6" x2="1322.6" y2="1360.3"/>
<line x1="1452.2" y1="1345.6" x2="1452.2" y2="1370.8"/>
<line x1="1581.7" y1="1345.6" x2="1581.7" y2="1360.3"/>
<line x1="1711.3" y1="1345.6" x2="1711.3" y2="1370.8"/>
<line x1="1840.8" y1="1345.6" x2="1840.8" y2="1360.3"/>
<line x1="1970.4" y1="1345.6" x2="1970.4" y2="1370.8"/>
</g>
<g class="tk">
<text transform="translate(156.6 1450.3) scale(0.969 1)">250</text>
<text transform="translate(415.7 1450.3) scale(0.969 1)">300</text>
<text transform="translate(674.8 1450.3) scale(0.969 1)">350</text>
<text transform="translate(933.9 1450.3) scale(0.969 1)">400</text>
<text transform="translate(1193.1 1450.3) scale(0.969 1)">450</text>
<text transform="translate(1452.2 1450.3) scale(0.969 1)">500</text>
<text transform="translate(1711.3 1450.3) scale(0.969 1)">550</text>
<text transform="translate(1970.4 1450.3) scale(0.969 1)">600</text>
</g>
<text class="ax" transform="translate(1061.6 1537.0) scale(0.988 1)">Wavelength (nm)</text>
<text class="ax" transform="translate(103.8 706.6) rotate(-90)" textLength="718.7" lengthAdjust="spacing">Absorbance (a.u.)</text>
<g class="an">
<text transform="translate(471.5 135.0) scale(0.966 1)">302 nm</text>
<text transform="translate(1102.5 304.4) scale(0.966 1)">429 nm</text>
<text transform="translate(1081.3 607.7) scale(0.966 1)">425 nm</text>
<text transform="translate(1075.5 931.2) scale(0.966 1)">425 nm</text>
</g>
<line x1="470.8" y1="78.2" x2="451.0" y2="100.5" stroke="#000" stroke-width="5.2"/><polygon points="429.8,124.4 443.0,90.7 451.0,100.5 461.7,107.3" fill="#000"/>
<line x1="1130.4" y1="318.5" x2="1106.0" y2="371.1" stroke="#000" stroke-width="5.2"/><polygon points="1092.8,399.7 1095.1,363.8 1106.0,371.1 1118.7,374.8" fill="#000"/>
<line x1="1104.6" y1="619.3" x2="1079.4" y2="672.3" stroke="#000" stroke-width="5.2"/><polygon points="1065.8,700.7 1068.5,664.9 1079.4,672.3 1091.9,676.1" fill="#000"/>
<line x1="1103.2" y1="942.8" x2="1077.2" y2="993.8" stroke="#000" stroke-width="5.2"/><polygon points="1062.7,1022.3 1067.0,986.3 1077.2,993.8 1089.3,997.7" fill="#000"/>
<g class="lb">
<text x="1869.0" y="346.8">a</text>
<text x="1870.0" y="650.1">b</text>
<text x="1875.5" y="943.5">c</text>
<text x="1887.0" y="1270.0">d</text>
</g>
</svg>
</body>
</html>
